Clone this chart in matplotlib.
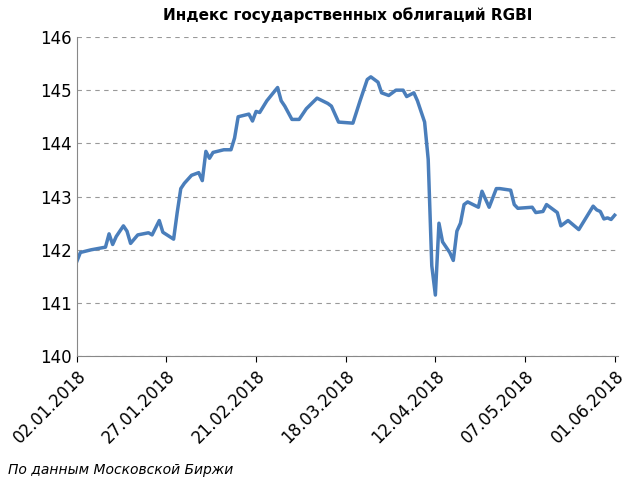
import pandas as pd
import matplotlib
matplotlib.use('Agg')
import matplotlib.pyplot as plt
import matplotlib.dates as mdates

start = pd.Timestamp('2018-01-02')
day_offsets = [0, 1, 4, 8, 9, 10, 11, 13, 14, 15, 17, 20, 21, 23, 24, 27, 28, 29, 30, 32,
               34, 35, 36, 37, 38, 41, 43, 44, 45, 48, 49, 50, 51, 53, 56, 57, 58, 60, 62, 64,
               67, 70, 71, 73, 77, 79, 81, 82, 84, 85, 87, 89, 91, 92, 94, 95, 97, 98, 99, 100,
               101, 102, 104, 105, 106, 107, 108, 109, 112, 113, 115, 117, 118, 121, 122, 123, 127, 128, 130, 131,
               133, 134, 135, 137, 140, 142, 144, 145, 146, 147, 148, 149, 150]
values = [141.78, 141.95, 142.0, 142.05, 142.3, 142.1, 142.25, 142.45, 142.35, 142.12, 142.28, 142.32, 142.28, 142.55, 142.33, 142.2, 142.7, 143.15, 143.25, 143.4,
          143.45, 143.3, 143.85, 143.72, 143.83, 143.88, 143.88, 144.1, 144.5, 144.55, 144.42, 144.6, 144.58, 144.8, 145.05, 144.8, 144.7, 144.45, 144.45, 144.65,
          144.85, 144.75, 144.7, 144.4, 144.38, 144.8, 145.2, 145.25, 145.15, 144.95, 144.9, 145.0, 145.0, 144.88, 144.95, 144.8, 144.4, 143.7, 141.7, 141.15,
          142.5, 142.15, 141.95, 141.8, 142.35, 142.5, 142.85, 142.9, 142.8, 143.1, 142.8, 143.15, 143.15, 143.12, 142.85, 142.78, 142.8, 142.7, 142.72, 142.85,
          142.75, 142.7, 142.45, 142.55, 142.38, 142.6, 142.82, 142.75, 142.72, 142.58, 142.6, 142.57, 142.65]
tick_labels = ['02.01.2018', '27.01.2018', '21.02.2018', '18.03.2018', '12.04.2018', '07.05.2018', '01.06.2018']

dates = [start + pd.Timedelta(days=d) for d in day_offsets]
ticks = pd.to_datetime(tick_labels, format='%d.%m.%Y')

fig = plt.figure(figsize=(6.4, 4.86), dpi=100)
ax = fig.add_axes([0.12, 0.267, 0.846, 0.657])
ax.plot(dates, values, color='#4a7ebb', lw=2.5)
ax.set_ylim(140, 146)
ax.set_xlim(ticks[0], ticks[-1] + pd.Timedelta(days=1))
ax.set_xticks(ticks)
ax.set_xticklabels(tick_labels, rotation=45, ha='right', rotation_mode='anchor', fontsize=12)
ax.tick_params(axis='y', labelsize=12, length=0)
ax.tick_params(axis='x', length=4)
ax.grid(axis='y', linestyle=(0, (4, 4)), color='#999999', lw=0.8)
for s in ['top', 'right']:
    ax.spines[s].set_visible(False)
ax.spines['left'].set_color('#888888')
ax.spines['bottom'].set_color('#888888')
ax.set_title('Индекс государственных облигаций RGBI', fontsize=11, fontweight='bold', pad=12)
fig.text(0.012, 0.025, 'По данным Московской Биржи', fontsize=10, style='italic')
fig.savefig('out.png')
